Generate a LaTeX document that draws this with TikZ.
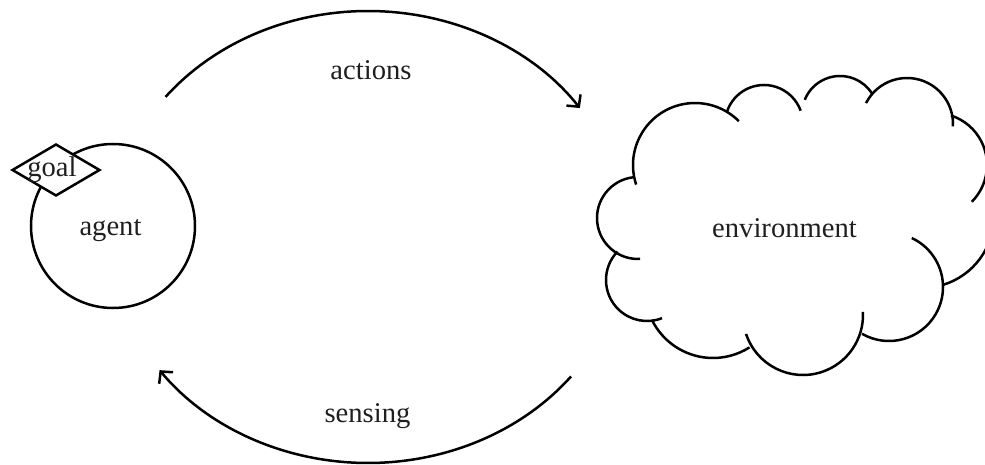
\documentclass[tikz,border=0pt]{standalone}
\usepackage{fontspec}
\setmainfont{Liberation Serif}
\usetikzlibrary{arrows.meta,shapes.geometric}
\begin{document}
\begin{tikzpicture}[x=1pt,y=1pt,line width=2.5pt,
  lbl/.style={font=\fontsize{28.6}{34}\selectfont, anchor=base, inner sep=0pt, text=black!88},
  conn/.style={-{Straight Barb[length=8.5pt,width=18pt]}, line width=2.5pt},
  bump/.style={line width=2.5pt}]
\useasboundingbox (0,0) rectangle (985,-465);
\clip (0,0) rectangle (985,-465);
% agent
\node[circle, draw, minimum size=164pt, inner sep=0pt] (agent) at (113,-226) {};
\node[diamond, draw, fill=white, minimum width=88pt, minimum height=52pt, inner sep=0pt] (goal) at (56,-170) {};
\node[lbl] (goaltxt) at (52,-177) {goal};
\node[lbl] (agenttxt) at (110.5,-236) {agent};
% environment cloud
\foreach \cx/\cy/\r/\s/\e in {
  695/165/62/198.4/45,
  638/218/41/97/273,
  647/280/41/136/291.5,
  713/290/68/206/302.5,
  803/315/60/198.4/363,
  889/287/54/240/425,
  922/216/72/-73/0,
  935/165/52/72/-45,
  907/124/46/153/-3,
  764/124/39/162/20,
  840/114/38/158/32.5}
  \draw[bump] (\cx,-\cy) ++(\s:\r pt) arc[start angle=\s, end angle=\e, radius=\r pt];
\node[lbl] (envtxt) at (784.5,-237) {environment};
% loop
\coordinate (loop) at (368,-237);
\draw[conn] (loop) ++(141.7:258pt and 226pt) coordinate (actstart)
  arc[start angle=141.7, end angle=34.8, x radius=258pt, y radius=226pt] coordinate (actend);
\draw[conn] (loop) ++(-38.1:258pt and 226pt) coordinate (senstart)
  arc[start angle=-38.1, end angle=-143.9, x radius=258pt, y radius=226pt] coordinate (senend);
\node[lbl] (acttxt) at (371,-80) {actions};
\node[lbl] (sentxt) at (367.5,-422) {sensing};
\end{tikzpicture}
\end{document}
